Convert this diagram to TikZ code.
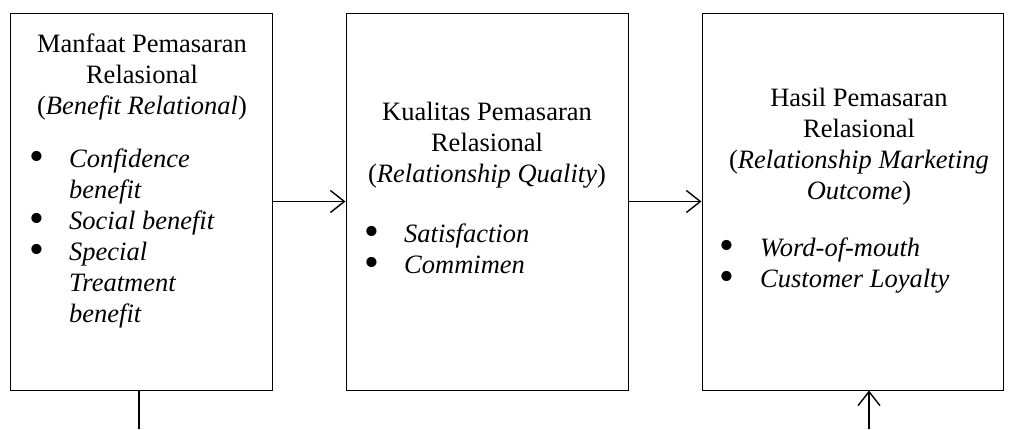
\documentclass[tikz,border=0pt]{standalone}
\usepackage{fontspec}
\setmainfont{Liberation Serif}
\usepackage{array}
\usepackage{graphicx}
\usetikzlibrary{arrows.meta}
\newcolumntype{L}[1]{>{\raggedright\arraybackslash\itshape}p{#1}}
\newcommand{\bdot}{\raisebox{-3pt}{\scalebox{1.6}{\textbullet}}}

\begin{document}
\begin{tikzpicture}[x=1pt, y=-1pt,
	box/.style={draw, line width=1pt, inner sep=0pt},
	txt/.style={inner sep=0pt, font=\fontsize{26.5}{31}\selectfont},
	title/.style={txt, align=center, anchor=north},
	blist/.style={txt, anchor=north west},
	wire/.style={line width=1.4pt},
	link/.style={wire, -{Straight Barb[length=14pt, width=22pt, line width=1.4pt]}}]
	% Paths, nodes and wires:
	\useasboundingbox (0, 0) rectangle (1013, 429);
	\draw node[box, minimum width=262pt, minimum height=377pt] (B1) at (141, 201.5) {};
	\draw node[box, minimum width=282pt, minimum height=377pt] (B2) at (487, 201.5) {};
	\draw node[box, minimum width=301pt, minimum height=377pt] (B3) at (852.5, 201.5) {};
	\draw node[title] (T1) at (142, 34) {Manfaat Pemasaran\\Relasional\\(\textit{Benefit Relational})};
	\draw node[title] (T2) at (487, 102) {Kualitas Pemasaran\\Relasional\\(\textit{Relationship Quality})};
	\draw node[title] (T3) at (859, 88) {Hasil Pemasaran\\Relasional\\(\textit{Relationship Marketing}\\\textit{Outcome})};
	\draw node[blist] (L1) at (29, 146) {\begin{tabular}{@{}p{40pt}@{}L{170pt}@{}}
		\bdot & Confidence benefit\\
		\bdot & Social benefit\\
		\bdot & Special Treatment benefit
	\end{tabular}};
	\draw node[blist] (L2) at (364, 221) {\begin{tabular}{@{}p{40pt}@{}L{200pt}@{}}
		\bdot & Satisfaction\\
		\bdot & Commimen
	\end{tabular}};
	\draw node[blist] (L3) at (719, 235) {\begin{tabular}{@{}p{41pt}@{}L{230pt}@{}}
		\bdot & Word-of-mouth\\
		\bdot & Customer Loyalty
	\end{tabular}};
	\coordinate (D1) at (139, 429);
	\coordinate (U3) at (869, 429);
	\draw[link] (B1.east) -- (B2.west);
	\draw[link] (B2.east) -- (B3.west);
	\draw[wire] (B1.south -| D1) -- (D1);
	\draw[link] (U3) -- (B3.south -| U3);
\end{tikzpicture}
\end{document}
